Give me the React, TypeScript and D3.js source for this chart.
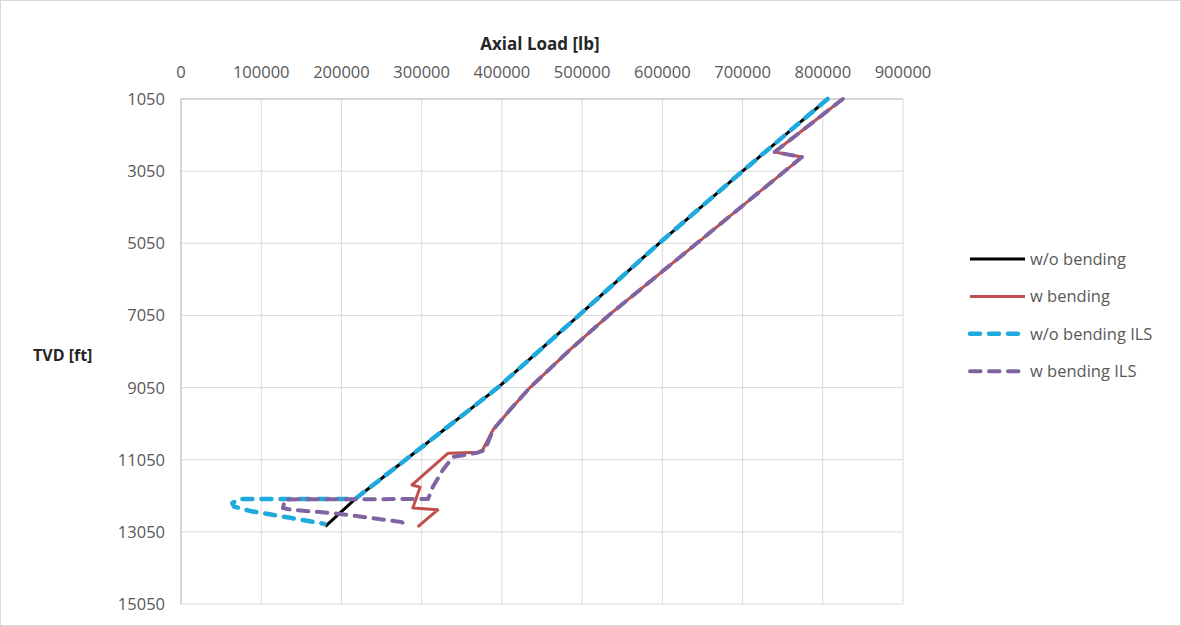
import React from "react";
import * as d3 from "d3";

// x ticks (axial load, lb) and y ticks (TVD, ft)
const loadTicks = [0, 100000, 200000, 300000, 400000, 500000, 600000, 700000, 800000, 900000];
const depthTicks = [1050, 3050, 5050, 7050, 9050, 11050, 13050, 15050];

// w/o bending
const woDepth = [1050, 3050, 5050, 7050, 9050, 11050, 12140, 12900];
const woLoad = [806000, 700000, 596000, 496000, 395000, 280000, 217000, 180000];

// w bending
const wDepth = [1050, 2520, 2660, 5050, 7050, 8000, 9050, 9670, 10220, 10780, 10840, 10870, 11750, 11810, 12390, 12440, 12910];
const wLoad = [825000, 740000, 774000, 643000, 533000, 485000, 435000, 410000, 389000, 376000, 370000, 333000, 288000, 298000, 289000, 320000, 295000];

// w/o bending ILS
const woIlsDepth = [1050, 3050, 5050, 7050, 9050, 11050, 12140, 12140, 12250, 12350, 12470, 12660, 12830];
const woIlsLoad = [806000, 700000, 596000, 496000, 395000, 280000, 217000, 74000, 64000, 66000, 86000, 136000, 179000];

// w bending ILS
const wIlsDepth = [1050, 2520, 2660, 5050, 7050, 8000, 9050, 9670, 10220, 10780, 10860, 10970, 11330, 11800, 12140, 12150, 12390, 12440, 12530, 12660, 12780, 12890];
const wIlsLoad = [825000, 740000, 774000, 643000, 533000, 485000, 435000, 410000, 389000, 379000, 369000, 339000, 326600, 314000, 308000, 129600, 127000, 138000, 189500, 235600, 275500, 279000];

const seriesNames = ["w/o bending", "w bending", "w/o bending ILS", "w bending ILS"];

const W = 1181;
const H = 626;
const font = "'Open Sans', 'Liberation Sans', sans-serif";
const grey = "#595959";

export default function App() {
  const x = d3.scaleLinear().domain([0, 900000]).range([181, 903]);
  const y = d3.scaleLinear().domain([1050, 15050]).range([99, 604]);

  const line = d3.line<[number, number]>()
    .x(d => x(d[1]))
    .y(d => y(d[0]));

  const zip = (ds: number[], ls: number[]) => ds.map((d, i) => [d, ls[i]] as [number, number]);

  const series = [
    { name: seriesNames[0], pts: zip(woDepth, woLoad), color: "#000000", width: 3, dash: null },
    { name: seriesNames[1], pts: zip(wDepth, wLoad), color: "#c0504d", width: 3, dash: null },
    { name: seriesNames[2], pts: zip(woIlsDepth, woIlsLoad), color: "#1fa9dd", width: 4.5, dash: "10,9" },
    { name: seriesNames[3], pts: zip(wIlsDepth, wIlsLoad), color: "#8064a2", width: 4, dash: "10.5,8.5" },
  ];

  return (
    <svg width={W} height={H} style={{ position: "absolute", left: 0, top: 0, background: "#fff" }} fontFamily={font}>
      <rect x={0.5} y={0.5} width={W - 1} height={H - 1} fill="#fff" stroke="#d9d9d9" />

      {/* grid */}
      {loadTicks.map(t => (
        <line key={"vx" + t} x1={x(t)} x2={x(t)} y1={y(1050)} y2={y(15050)} stroke="#d9d9d9" strokeWidth={1} />
      ))}
      {depthTicks.map(t => (
        <line key={"hy" + t} x1={x(0)} x2={x(900000)} y1={y(t)} y2={y(t)} stroke="#d9d9d9" strokeWidth={1} />
      ))}
      <line x1={x(0)} x2={x(0)} y1={y(1050)} y2={y(15050)} stroke="#bfbfbf" />
      <line x1={x(0)} x2={x(900000)} y1={y(1050)} y2={y(1050)} stroke="#bfbfbf" />

      {/* tick labels */}
      {loadTicks.map(t => (
        <text key={"lx" + t} x={x(t)} y={78} textAnchor="middle" fontSize={16.5} fill={grey}>{t}</text>
      ))}
      {depthTicks.map(t => (
        <text key={"ly" + t} x={165} y={y(t) + 6} textAnchor="end" fontSize={16.5} fill={grey}>{t}</text>
      ))}

      {/* axis titles */}
      <text x={540} y={50} textAnchor="middle" fontSize={17} fontWeight="bold" fill="#262626">Axial Load [lb]</text>
      <text x={33} y={361} fontSize={16} fontWeight="bold" fill="#262626">TVD [ft]</text>

      {/* series */}
      {series.map(s => (
        <path key={s.name} d={line(s.pts) || ""} fill="none" stroke={s.color} strokeWidth={s.width}
          strokeDasharray={s.dash || undefined} strokeLinecap={s.dash ? "round" : "butt"} strokeLinejoin="round" />
      ))}

      {/* legend */}
      {series.map((s, i) => {
        const ly = 259 + i * 37.4;
        return (
          <g key={"lg" + s.name}>
            <line x1={970} x2={1025} y1={ly} y2={ly} stroke={s.color} strokeWidth={s.width}
              strokeDasharray={s.dash || undefined} strokeLinecap={s.dash ? "round" : "butt"} />
            <text x={1030} y={ly + 6} fontSize={16.5} fill={grey}>{s.name}</text>
          </g>
        );
      })}
    </svg>
  );
}
